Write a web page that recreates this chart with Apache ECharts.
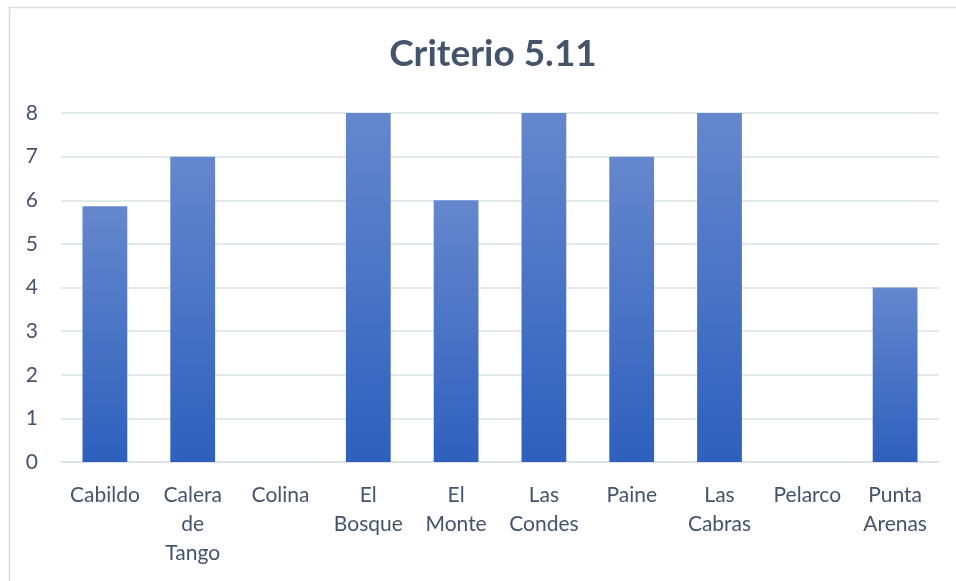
<!DOCTYPE html>
<html>
<head>
<meta charset="utf-8">
<script src="https://cdn.jsdelivr.net/npm/echarts@6/dist/echarts.min.js"></script>
<style>
  html, body { margin: 0; padding: 0; background: #fff; }
  #main { width: 956px; height: 581px; }
</style>
</head>
<body>
<div id="main"></div>
<script>
// datos del gráfico
var categorias = ['Cabildo', 'Calera de Tango', 'Colina', 'El Bosque', 'El Monte',
  'Las Condes', 'Paine', 'Las Cabras', 'Pelarco', 'Punta Arenas']
var valores = [5.86, 7, 0, 8, 6, 8, 7, 8, 0, 4]
var yTicks = [0, 1, 2, 3, 4, 5, 6, 7, 8]

var textColor = '#44546A'
var gridColor = '#DCE0E5'

var myChart = echarts.init(document.getElementById('main'))

var option = {
  animation: false,
  textStyle: { fontFamily: 'Lato' },
  title: {
    text: 'Criterio 5.11',
    left: 488,
    top: 31,
    textAlign: 'center',
    textStyle: {
      fontSize: 37,
      fontWeight: 'bold',
      color: textColor,
      fontFamily: 'Lato'
    }
  },
  graphic: [{
    type: 'rect',
    shape: { x: 9.5, y: 7.5, width: 980, height: 620 },
    style: { fill: 'none', stroke: '#D9DDE2', lineWidth: 1.5 },
    silent: true
  }],
  grid: {
    left: 61,
    right: 17,
    top: 113,
    bottom: 119,
    containLabel: false
  },
  xAxis: {
    type: 'category',
    data: categorias,
    axisTick: { show: false },
    axisLine: { lineStyle: { color: gridColor, width: 1.5 } },
    axisLabel: {
      color: textColor,
      fontSize: 21,
      lineHeight: 29,
      margin: 19,
      interval: 0,
      formatter: function(v) {
        return v.split(' ').join('\n')
      }
    }
  },
  yAxis: {
    type: 'value',
    min: yTicks[0],
    max: yTicks[yTicks.length - 1],
    interval: 1,
    axisLine: { show: false },
    axisTick: { show: false },
    axisLabel: {
      color: textColor,
      fontSize: 21,
      margin: 23
    },
    splitLine: {
      lineStyle: { color: gridColor, width: 1.5 }
    }
  },
  series: [
    {
      type: 'bar',
      data: valores,
      barWidth: '51%',
      itemStyle: {
        color: {
          type: 'linear',
          x: 0, y: 0, x2: 0, y2: 1,
          colorStops: [
            { offset: 0, color: '#6587CD' },
            { offset: 1, color: '#2E60BD' }
          ],
          global: false
        }
      }
    }
  ]
}

option && myChart.setOption(option)
</script>
</body>
</html>
